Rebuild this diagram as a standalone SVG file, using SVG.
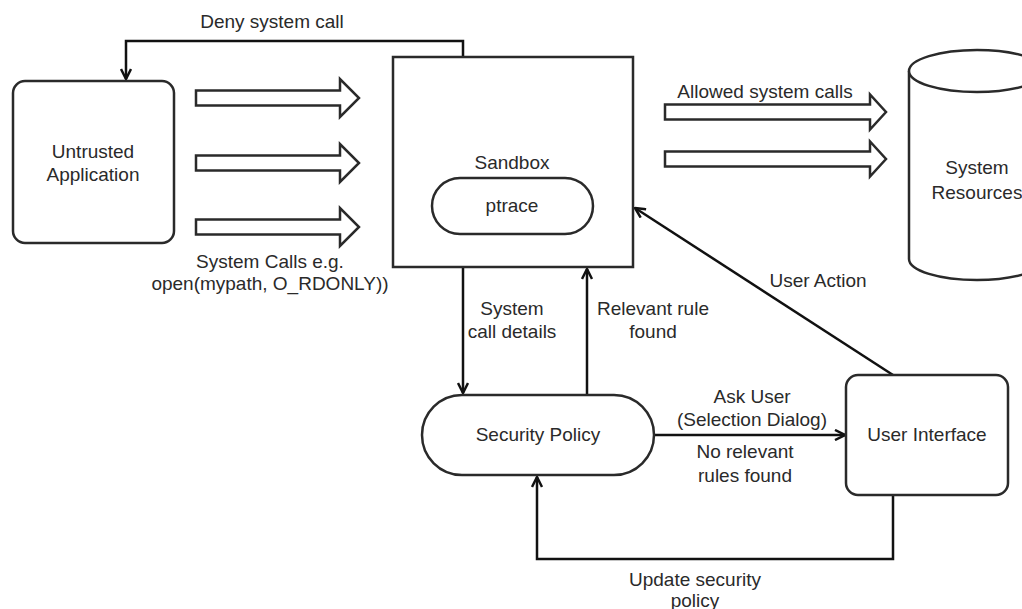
<svg xmlns="http://www.w3.org/2000/svg" width="1022" height="609" viewBox="0 0 1022 609">
<style>
text{font-family:"Liberation Sans",Arial,sans-serif;font-size:19px;fill:#2a2a2a;text-anchor:middle}
.s{fill:#fff;stroke:#2a2a2a;stroke-width:2.5}
.c{fill:none;stroke:#111;stroke-width:2.5}
.b{fill:#fff;stroke:#2a2a2a;stroke-width:2.5;stroke-linejoin:miter}
</style>
<defs>
<marker id="ah" viewBox="0 0 12 12" refX="11" refY="6" markerWidth="12" markerHeight="12" markerUnits="userSpaceOnUse" orient="auto">
<path d="M1,1 L11,6 L1,11" fill="none" stroke="#111" stroke-width="2.5"/>
</marker>
<path id="bl" d="M0,-7.5 H144 V-19 L163,0 L144,19 V7.5 H0 Z"/>
<path id="br" d="M0,-7.5 H205 V-17.5 L221,0 L205,17.5 V7.5 H0 Z"/>
</defs>
<rect width="1022" height="609" fill="#fff"/>
<g id="connectors">
<path class="c" d="M463,57 V41 H126 V79" marker-end="url(#ah)"/>
<path class="c" d="M463,267 V393" marker-end="url(#ah)"/>
<path class="c" d="M587,395 V269" marker-end="url(#ah)"/>
<path class="c" d="M654,435 H845" marker-end="url(#ah)"/>
<path class="c" d="M893,375 L635,208" marker-end="url(#ah)"/>
<path class="c" d="M893,495 V559 H537 V477" marker-end="url(#ah)"/>
<use href="#bl" class="b" x="196" y="98"/>
<use href="#bl" class="b" x="196" y="163"/>
<use href="#bl" class="b" x="196" y="227"/>
<use href="#br" class="b" x="665" y="112"/>
<use href="#br" class="b" x="665" y="159"/>
</g>
<g id="untrusted">
<rect class="s" x="13" y="81" width="161" height="162" rx="12"/>
<text x="93" y="158">Untrusted</text>
<text x="93" y="181">Application</text>
</g>
<g id="sandbox">
<rect class="s" x="393" y="57" width="240" height="210"/>
<text x="512" y="169">Sandbox</text>
</g>
<g id="ptrace">
<rect class="s" x="432" y="178" width="161" height="56" rx="28"/>
<text x="512" y="212">ptrace</text>
</g>
<g id="resources">
<path class="s" d="M909,71 V259 A68,21 0 0 0 1045,259 V71 A68,21 0 0 0 909,71 Z"/>
<path class="s" d="M909,71 A68,21 0 0 0 1045,71" fill="none"/>
<text x="977" y="174">System</text>
<text x="977" y="199">Resources</text>
</g>
<g id="policy">
<rect class="s" x="422" y="395" width="232" height="80" rx="40"/>
<text x="538" y="441">Security Policy</text>
</g>
<g id="ui">
<rect class="s" x="846" y="375" width="162" height="120" rx="12"/>
<text x="927" y="441">User Interface</text>
</g>
<g id="labels">
<text x="272" y="28">Deny system call</text>
<text x="270" y="268">System Calls e.g.</text>
<text x="270" y="290">open(mypath, O_RDONLY))</text>
<text x="765" y="98">Allowed system calls</text>
<text x="818" y="287">User Action</text>
<text x="512" y="315">System</text>
<text x="512" y="338">call details</text>
<text x="653" y="315">Relevant rule</text>
<text x="653" y="338">found</text>
<text x="752" y="403">Ask User</text>
<text x="752" y="426">(Selection Dialog)</text>
<text x="745" y="458">No relevant</text>
<text x="745" y="482">rules found</text>
<text x="695" y="586">Update security</text>
<text x="695" y="607">policy</text>
</g>
</svg>
